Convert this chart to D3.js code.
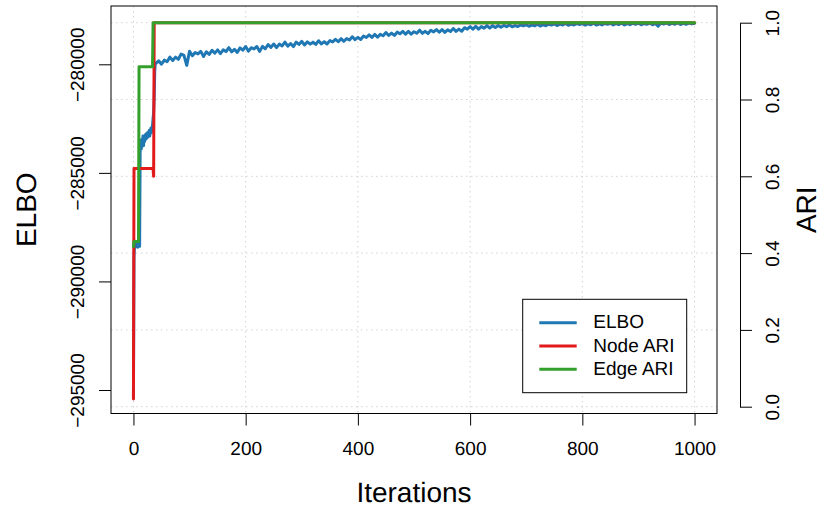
<!DOCTYPE html>
<html>
<head>
<meta charset="utf-8">
<script src="https://cdn.jsdelivr.net/npm/d3@7"></script>
<style>
  body { margin: 0; background: #fff; -webkit-font-smoothing: antialiased; }
  text { font-family: "Liberation Sans", Arial, sans-serif; fill: #000; text-rendering: geometricPrecision; }
</style>
</head>
<body>
<div id="chart"></div>
<script>
// ELBO, first iterations (one value per iteration 0..39)
var elboEarlyIter = [0, 1, 2, 3, 4, 5, 6, 7, 8, 9, 10, 11, 12, 13, 14, 15, 16, 17, 18, 19,
                     20, 21, 22, 23, 24, 25, 26, 27, 28, 29, 30, 31, 32, 33, 34, 35, 36, 37, 38, 39];
var elboEarly = [-295365, -288900, -288300, -288150, -288350, -288250, -288400, -288300, -288420, -288350,
                 -288300, -288380, -283700, -283500, -283900, -283450, -283650, -283300, -283750, -283400,
                 -283550, -283250, -283450, -283200, -283400, -283150, -283350, -283200, -283050, -283300,
                 -283100, -282950, -283150, -282900, -282800, -282500, -282200, -281500, -280300, -279950];

// ELBO, every 5 iterations from 40 to 1000
var elboStep = 5;
var elboLate = [
  -279960, -279840, -279995, -279810, -279880, -279670, -279825, -279670, -279770, -279525,
  -279590, -280050, -279395, -279610, -279455, -279520, -279405, -279640, -279425, -279545,
  -279355, -279485, -279335, -279505, -279335, -279415, -279235, -279425, -279310, -279450,
  -279245, -279350, -279180, -279395, -279235, -279295, -279180, -279405, -279175, -279285,
  -279090, -279220, -279065, -279230, -279070, -279155, -278975, -279165, -279045, -279185,
  -278980, -279085, -278940, -279110, -278965, -279070, -278980, -279085, -278915, -279060,
  -278960, -279065, -278910, -278970, -278850, -278960, -278820, -278940, -278815, -278880,
  -278730, -278865, -278760, -278855, -278700, -278765, -278645, -278760, -278625, -278745,
  -278620, -278685, -278535, -278670, -278565, -278670, -278520, -278595, -278485, -278610,
  -278485, -278615, -278500, -278570, -278430, -278575, -278480, -278585, -278435, -278510,
  -278405, -278525, -278400, -278530, -278415, -278490, -278350, -278485, -278380, -278475,
  -278315, -278380, -278265, -278380, -278250, -278380, -278265, -278335, -278220, -278330,
  -278220, -278305, -278210, -278290, -278210, -278265, -278190, -278275, -278215, -278260,
  -278190, -278230, -278180, -278250, -278185, -278230, -278155, -278240, -278175, -278225,
  -278155, -278195, -278140, -278215, -278150, -278190, -278120, -278205, -278145, -278190,
  -278125, -278170, -278120, -278195, -278135, -278180, -278105, -278195, -278135, -278185,
  -278120, -278160, -278110, -278185, -278125, -278170, -278100, -278190, -278130, -278175,
  -278110, -278155, -278105, -278180, -278120, -278160, -278090, -278180, -278120, -278250,
  -278100, -278145, -278095, -278170, -278110, -278155, -278085, -278170, -278110, -278160,
  -278095, -278140, -278110
];

// ARI series (values change only during the first iterations)
var nodeAriIter = [0, 1, 35, 36, 37, 1000];
var nodeAri = [0.02, 0.62, 0.62, 0.60, 1.0, 1.0];
var edgeAriIter = [0, 1, 9, 10, 34, 35, 1000];
var edgeAri = [0.417, 0.43, 0.43, 0.885, 0.885, 1.0, 1.0];

// ticks
var xTicks = [0, 200, 400, 600, 800, 1000];
var elboTicks = [-280000, -285000, -290000, -295000];
var ariTicks = [0, 0.2, 0.4, 0.6, 0.8, 1.0];

var seriesNames = ["ELBO", "Node ARI", "Edge ARI"];
var colors = ["#1f78b4", "#e31a1c", "#33a02c"];

// build ELBO points
var elbo = [];
elboEarlyIter.forEach(function(it, i) { elbo.push({it: it, v: elboEarly[i]}); });
elboLate.forEach(function(v, i) { elbo.push({it: 40 + i * elboStep, v: v}); });

var node = nodeAriIter.map(function(it, i) { return {it: it, v: nodeAri[i]}; });
var edge = edgeAriIter.map(function(it, i) { return {it: it, v: edgeAri[i]}; });

// plot region
var width = 820, height = 508;
var box = {left: 111, right: 717, top: 6, bottom: 413.5};

var x = d3.scaleLinear().domain([-40, 1040]).range([box.left, box.right]);
var yElbo = d3.scaleLinear().domain([-295000, -280000]).range([390, 64.3]);
var yAri = d3.scaleLinear().domain([0, 1]).range([406.7, 22.7]);

var svg = d3.select("#chart")
  .append("svg")
    .attr("width", width)
    .attr("height", height);

svg.append("defs").append("clipPath")
    .attr("id", "plotclip")
  .append("rect")
    .attr("x", box.left)
    .attr("y", box.top)
    .attr("width", box.right - box.left)
    .attr("height", box.bottom - box.top);

// grid (dotted, from the ARI axis)
var grid = svg.append("g")
    .attr("stroke", "#d3d3d3")
    .attr("stroke-width", 1)
    .attr("stroke-dasharray", "1.5,3.5");
grid.selectAll(".gx").data(xTicks).enter().append("line")
    .attr("x1", function(d) { return x(d); })
    .attr("x2", function(d) { return x(d); })
    .attr("y1", box.top)
    .attr("y2", box.bottom);
grid.selectAll(".gy").data(ariTicks).enter().append("line")
    .attr("x1", box.left)
    .attr("x2", box.right)
    .attr("y1", function(d) { return yAri(d); })
    .attr("y2", function(d) { return yAri(d); });

// lines
var plot = svg.append("g").attr("clip-path", "url(#plotclip)");

var elboLine = d3.line()
    .x(function(d) { return x(d.it); })
    .y(function(d) { return yElbo(d.v); });
var ariLine = d3.line()
    .x(function(d) { return x(d.it); })
    .y(function(d) { return yAri(d.v); });

[[elbo, elboLine, colors[0]], [node, ariLine, colors[1]], [edge, ariLine, colors[2]]]
  .forEach(function(s) {
    plot.append("path")
      .datum(s[0])
      .attr("fill", "none")
      .attr("stroke", s[2])
      .attr("stroke-width", 3)
      .attr("stroke-linejoin", "round")
      .attr("stroke-linecap", "round")
      .attr("d", s[1]);
  });

// box
svg.append("rect")
    .attr("x", box.left)
    .attr("y", box.top)
    .attr("width", box.right - box.left)
    .attr("height", box.bottom - box.top)
    .attr("fill", "none")
    .attr("stroke", "#000")
    .attr("stroke-width", 1);

// x axis
var xAxis = svg.append("g")
    .attr("transform", "translate(0," + box.bottom + ")")
    .attr("color", "#000")
    .call(d3.axisBottom(x).tickValues(xTicks).tickSize(12).tickSizeOuter(0).tickPadding(16)
      .tickFormat(d3.format("d")));
xAxis.select(".domain").remove();
xAxis.selectAll("text").attr("font-size", 19)
    .attr("font-family", "Liberation Sans, Arial, sans-serif");

// left axis (ELBO), labels parallel to the axis
var yAxisL = svg.append("g")
    .attr("transform", "translate(" + box.left + ",0)")
    .attr("color", "#000")
    .call(d3.axisLeft(yElbo).tickValues(elboTicks).tickSize(12).tickSizeOuter(0)
      .tickFormat(function(d) { return "\u2212" + Math.abs(d); }));
yAxisL.select(".domain").remove();
yAxisL.selectAll("text")
    .attr("font-size", 19)
    .attr("font-family", "Liberation Sans, Arial, sans-serif")
    .style("fill", "#000")
    .attr("x", null).attr("dy", null)
    .attr("text-anchor", "middle")
    .attr("dominant-baseline", "central")
    .attr("transform", "translate(-33,0) rotate(-90)");

// right axis (ARI)
var ariX = 740;
var yAxisR = svg.append("g")
    .attr("transform", "translate(" + ariX + ",0)")
    .attr("color", "#000")
    .call(d3.axisRight(yAri).tickValues(ariTicks).tickSize(12).tickSizeOuter(0)
      .tickFormat(d3.format(".1f")));
yAxisR.selectAll("text")
    .attr("font-size", 19)
    .attr("font-family", "Liberation Sans, Arial, sans-serif")
    .style("fill", "#000")
    .attr("x", null).attr("dy", null)
    .attr("text-anchor", "middle")
    .attr("dominant-baseline", "central")
    .attr("transform", "translate(33,0) rotate(-90)");

// axis titles
svg.append("text")
    .attr("x", (box.left + box.right) / 2)
    .attr("y", 502)
    .attr("text-anchor", "middle")
    .attr("font-size", 28)
    .text("Iterations");
svg.append("text")
    .attr("transform", "translate(26," + (box.top + box.bottom) / 2 + ") rotate(-90)")
    .attr("text-anchor", "middle")
    .attr("dominant-baseline", "central")
    .attr("font-size", 28)
    .text("ELBO");
svg.append("text")
    .attr("transform", "translate(806," + (box.top + box.bottom) / 2 + ") rotate(-90)")
    .attr("text-anchor", "middle")
    .attr("dominant-baseline", "central")
    .attr("font-size", 28)
    .text("ARI");

// legend
var legend = svg.append("g");
legend.append("rect")
    .attr("x", 522.7)
    .attr("y", 299.3)
    .attr("width", 164)
    .attr("height", 93.4)
    .attr("fill", "#fff")
    .attr("stroke", "#000")
    .attr("stroke-width", 1);
seriesNames.forEach(function(name, i) {
  var ly = 322.7 + i * 23.3;
  legend.append("line")
      .attr("x1", 539.3).attr("x2", 576.7)
      .attr("y1", ly).attr("y2", ly)
      .attr("stroke", colors[i])
      .attr("stroke-width", 3);
  legend.append("text")
      .attr("x", 593.3)
      .attr("y", ly)
      .attr("dominant-baseline", "central")
      .attr("font-size", 19)
      .text(name);
});
</script>
</body>
</html>
